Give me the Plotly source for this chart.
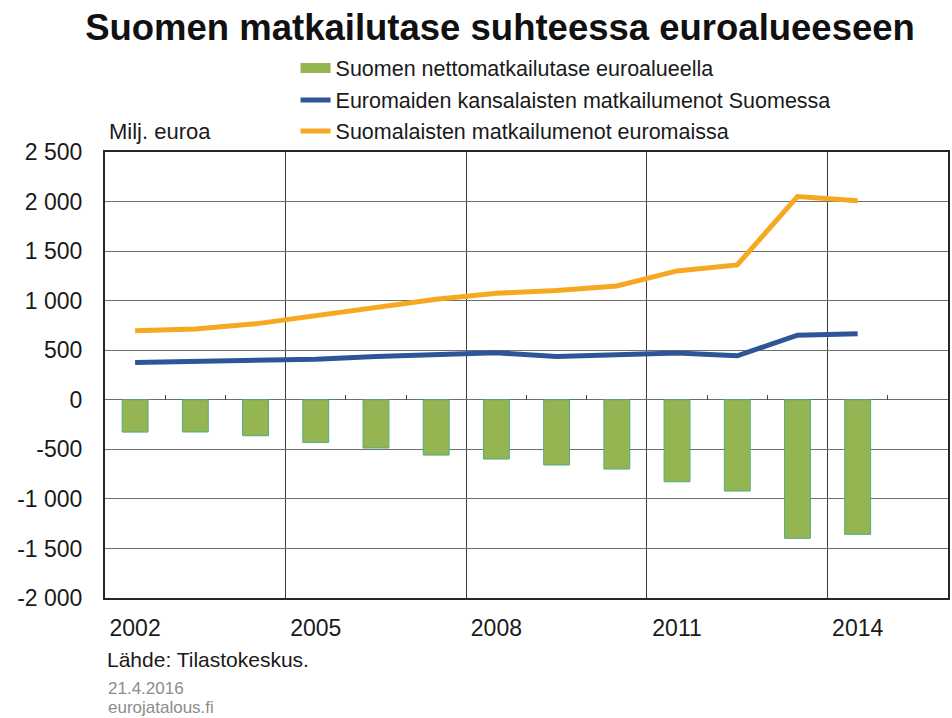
import plotly.graph_objects as go

# ---- data ----
years = [2002, 2003, 2004, 2005, 2006, 2007, 2008, 2009, 2010, 2011, 2012, 2013, 2014]
net_balance = [-326, -325, -363, -430, -487, -558, -598, -658, -699, -827, -921, -1398, -1358]
euro_in_finland = [376, 390, 396, 410, 437, 454, 474, 437, 450, 471, 444, 652, 665]
finns_in_euro = [696, 713, 766, 845, 925, 1015, 1075, 1102, 1149, 1300, 1361, 2050, 2009]

series_names = [
    "Suomen nettomatkailutase euroalueella",
    "Euromaiden kansalaisten matkailumenot Suomessa",
    "Suomalaisten matkailumenot euromaissa",
]
x_tick_vals = [2002, 2005, 2008, 2011, 2014]
x_tick_text = ["2002", "2005", "2008", "2011", "2014"]
x_group_bounds = [2004.5, 2007.5, 2010.5, 2013.5]
x_small_ticks = [2002.5, 2003.5, 2005.5, 2006.5, 2008.5, 2009.5, 2011.5, 2012.5, 2014.5]
y_tick_vals = [-2000, -1500, -1000, -500, 0, 500, 1000, 1500, 2000, 2500]
y_tick_text = ["-2 000", "-1 500", "-1 000", "-500", "0", "500", "1 000", "1 500", "2 000", "2 500"]
x_range = [2001.5, 2015.5]
y_range = [-2000, 2500]

FONT = "Liberation Sans, Arial, sans-serif"
GREEN = "#95B553"
GREEN_EDGE = "#4DAF7C"
BLUE = "#2E5597"
ORANGE = "#F7A823"

# plot-area geometry (pixels) used for placing legends/annotations
L, R, T, B = 105, 2, 152, 120
W, H = 952, 718
PW, PH = W - L - R, H - T - B


def px_x(px):
    return (px - L) / PW


def px_y(py):
    return (H - B - py) / PH


fig = go.Figure()
fig.add_trace(go.Bar(
    x=years, y=net_balance, name=series_names[0], width=0.43,
    marker=dict(color=GREEN, line=dict(color=GREEN_EDGE, width=1)),
    showlegend=False,
))
# legend swatch for the bar series (wide green box like the original)
fig.add_trace(go.Scatter(
    x=[None], y=[None], name=series_names[0], mode="lines",
    line=dict(color=GREEN, width=13), legend="legend", hoverinfo="skip",
))
fig.add_trace(go.Scatter(
    x=years, y=euro_in_finland, name=series_names[1], mode="lines",
    line=dict(color=BLUE, width=5), legend="legend2",
))
fig.add_trace(go.Scatter(
    x=years, y=finns_in_euro, name=series_names[2], mode="lines",
    line=dict(color=ORANGE, width=5), legend="legend3",
))
# empty trace to host the small tick axis at zero
fig.add_trace(go.Scatter(x=[], y=[], xaxis="x2", showlegend=False, hoverinfo="skip"))

leg_common = dict(
    xanchor="left", yanchor="middle", bgcolor="rgba(0,0,0,0)",
    font=dict(family=FONT, size=21.5, color="#1a1a1a"), borderwidth=0,
)
fig.update_layout(
    width=W, height=H,
    margin=dict(l=L, r=R, t=T, b=B),
    paper_bgcolor="white", plot_bgcolor="white",
    font=dict(family=FONT, color="#1a1a1a"),
    title=dict(
        text="<b>Suomen matkailutase suhteessa euroalueeseen</b>",
        x=500 / W, xref="container", xanchor="center",
        y=1 - 27 / H, yref="container", yanchor="middle",
        font=dict(family=FONT, size=36.5, color="#111111"),
    ),
    legend=dict(x=px_x(296), y=px_y(68), **leg_common),
    legend2=dict(x=px_x(296), y=px_y(100), **leg_common),
    legend3=dict(x=px_x(296), y=px_y(131), **leg_common),
    xaxis=dict(
        range=x_range, tickmode="array", tickvals=x_tick_vals, ticktext=x_tick_text,
        showgrid=False, zeroline=False, ticks="",
        tickfont=dict(family=FONT, size=23, color="#1a1a1a"),
        ticklabelstandoff=8,
        showline=True, mirror=True, linecolor="#262626", linewidth=2,
        minor=dict(tickmode="array", tickvals=x_group_bounds, showgrid=True,
                   gridcolor="#3c3c3c", gridwidth=1, ticks=""),
    ),
    xaxis2=dict(
        overlaying="x", anchor="free", position=(0 - y_range[0]) / (y_range[1] - y_range[0]),
        side="top", range=x_range, tickmode="array", tickvals=x_small_ticks,
        ticks="outside", ticklen=5, tickwidth=1, tickcolor="#444444",
        showticklabels=False, showgrid=False, zeroline=False, showline=False,
    ),
    yaxis=dict(
        range=y_range, tickmode="array", tickvals=y_tick_vals, ticktext=y_tick_text,
        showgrid=True, gridcolor="#6e6e6e", gridwidth=1.3, zeroline=False, ticks="",
        tickfont=dict(family=FONT, size=23, color="#1a1a1a"),
        ticklabelstandoff=16,
        showline=True, mirror=True, linecolor="#262626", linewidth=2,
    ),
    showlegend=True,
    annotations=[
        dict(text="Milj. euroa", xref="paper", yref="paper", x=px_x(107), y=px_y(131),
             xanchor="left", yanchor="middle", showarrow=False,
             font=dict(family=FONT, size=22, color="#1a1a1a")),
        dict(text="Lähde: Tilastokeskus.", xref="paper", yref="paper", x=px_x(105), y=px_y(659),
             xanchor="left", yanchor="middle", showarrow=False,
             font=dict(family=FONT, size=21, color="#1a1a1a")),
        dict(text="21.4.2016", xref="paper", yref="paper", x=px_x(106), y=px_y(688),
             xanchor="left", yanchor="middle", showarrow=False,
             font=dict(family=FONT, size=17, color="#8c8c8c")),
        dict(text="eurojatalous.fi", xref="paper", yref="paper", x=px_x(106), y=px_y(707),
             xanchor="left", yanchor="middle", showarrow=False,
             font=dict(family=FONT, size=17, color="#8c8c8c")),
    ],
)

fig.write_html("out.html", config={"displayModeBar": False},
               post_script="document.body.style.margin='0px';")
